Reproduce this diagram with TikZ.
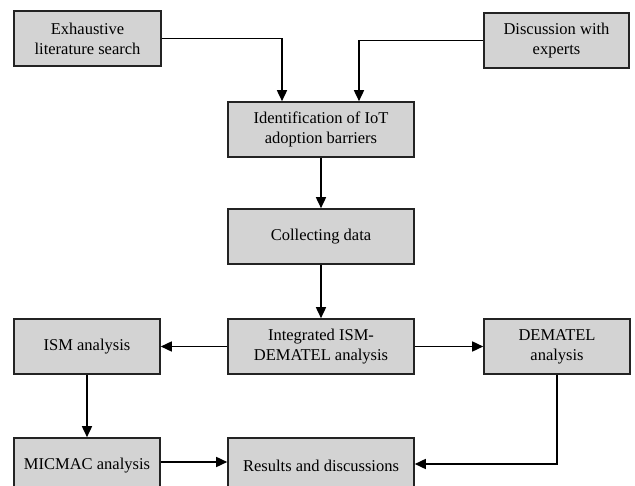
\documentclass[tikz,border=0pt]{standalone}
\usepackage{fontspec}
\setmainfont{Liberation Serif}
\usetikzlibrary{arrows.meta}
\definecolor{boxfill}{RGB}{211,211,211}
\definecolor{boxline}{RGB}{35,35,35}
\begin{document}
\begin{tikzpicture}[x=1pt,y=-1pt,
  box/.style={draw=boxline,line width=1.6pt,fill=boxfill,rectangle,inner sep=0pt,
    minimum height=55pt,align=center,font=\fontsize{16.5}{20}\selectfont},
  wbox/.style={box,minimum width=186pt},
  nbox/.style={box,minimum width=146pt},
  conn/.style={line width=1.6pt,draw=black,-{Triangle[length=11pt,width=10pt]}}]
\useasboundingbox (0,0) rectangle (635,486);
\clip (0,0) rectangle (635,486);
\fill[white] (0,0) rectangle (635,486);
\node[nbox,minimum width=147pt] (ex) at (87.5,38.5) {Exhaustive\\literature search};
\node[nbox,minimum width=145pt] (disc) at (556.5,40.5) {Discussion with\\experts};
\node[wbox] (ident) at (321,129.5) {Identification of IoT\\adoption barriers};
\node[wbox] (coll) at (321,236.5) {Collecting data};
\node[wbox] (integ) at (321,346.5) {Integrated ISM-\\DEMATEL analysis};
\node[nbox] (ism) at (87,346.5) {ISM analysis};
\node[nbox] (dem) at (557,346.5) {DEMATEL\\analysis};
\node[nbox] (mic) at (87,465.5) {MICMAC analysis};
\node[wbox] (res) at (321,465.5) {Results and discussions};
\draw[conn] (ex.east) -| ([xshift=-39pt]ident.north);
\draw[conn] (disc.west) -| ([xshift=38pt]ident.north);
\draw[conn] (ident) -- (coll);
\draw[conn] (coll) -- (integ);
\draw[conn] (integ) -- (ism);
\draw[conn] (integ) -- (dem);
\draw[conn] (ism) -- (mic);
\draw[conn] ([yshift=3.5pt]mic.east) -- ([yshift=3.5pt]res.west);
\draw[conn] (dem.south) |- ([yshift=1.5pt]res.east);
\end{tikzpicture}
\end{document}
